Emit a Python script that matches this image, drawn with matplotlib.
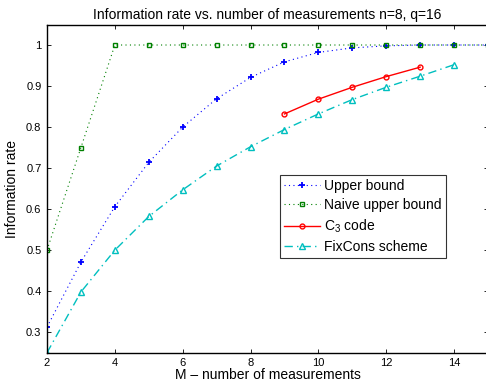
import numpy as np
import matplotlib
matplotlib.use('Agg')
import matplotlib.pyplot as plt

plt.rcParams['font.family'] = ['Liberation Sans', 'DejaVu Sans']
plt.rcParams['mathtext.fontset'] = 'custom'
plt.rcParams['mathtext.rm'] = 'Liberation Sans'

# Données
m_upper = np.arange(2, 16)
upper_bound = [0.3125, 0.471, 0.606, 0.714, 0.800, 0.869, 0.921, 0.959,
               0.982, 0.993, 0.998, 1.0, 1.0, 1.0]

m_naive = np.arange(2, 16)
naive_bound = [0.5, 0.75, 1, 1, 1, 1, 1, 1, 1, 1, 1, 1, 1, 1]

m_c3 = np.arange(9, 14)
c3_code = [0.832, 0.868, 0.897, 0.923, 0.946]

m_fix = np.arange(2, 15)
fixcons = [0.25, 0.398, 0.50, 0.582, 0.647, 0.705, 0.752, 0.794,
           0.832, 0.867, 0.897, 0.924, 0.952]

fig = plt.figure(figsize=(4.86, 3.9), dpi=100)
ax = fig.add_axes([47 / 486, 37.3 / 390, 441 / 486, 328.2 / 390])

ax.plot(m_upper, upper_bound, color='b', linestyle=(0, (1, 3)), lw=0.8,
        marker='+', ms=4.5, mew=1.3, label='Upper bound')
ax.plot(m_naive, naive_bound, color=(0, 0.5, 0), linestyle=(0, (1, 3)), lw=0.8,
        marker='s', ms=3, mfc='none', mew=1.0, label='Naive upper bound')
ax.plot(m_c3, c3_code, color='r', linestyle='-', lw=1.0,
        marker='o', ms=3.5, mfc='none', mew=1.0, label='C$_3$ code')
ax.plot(m_fix, fixcons, color=(0, 0.75, 0.75), linestyle=(0, (6, 3, 1, 3)), lw=1.0,
        marker='^', ms=4.5, mfc='none', mew=1.0, label='FixCons scheme')

ax.set_xlim(2, 15)
ax.set_ylim(0.25, 1.05)
ax.set_xticks([2, 4, 6, 8, 10, 12, 14])
ax.set_yticks([0.3, 0.4, 0.5, 0.6, 0.7, 0.8, 0.9, 1.0])
ax.set_yticklabels(['0.3', '0.4', '0.5', '0.6', '0.7', '0.8', '0.9', '1'])
ax.tick_params(direction='in', top=True, right=True, labelsize=8, length=3, width=0.6, pad=4)
for s in ax.spines.values():
    s.set_linewidth(1.0)

ax.set_title('Information rate vs. number of measurements n=8, q=16', fontsize=10, pad=4)
ax.set_xlabel('M \u2013 number of measurements', fontsize=10, labelpad=0)
ax.set_ylabel('Information rate', fontsize=10, labelpad=5)

leg = ax.legend(loc='upper left', bbox_to_anchor=((280 - 47) / 441, (352.7 - 174.7) / 328.2),
                fontsize=10, frameon=True, fancybox=False, borderpad=0.3,
                labelspacing=0.38, handlelength=2.6, handletextpad=0.3, borderaxespad=0)
leg.get_frame().set_edgecolor('black')
leg.get_frame().set_linewidth(0.8)

plt.savefig('out.png', dpi=100)
